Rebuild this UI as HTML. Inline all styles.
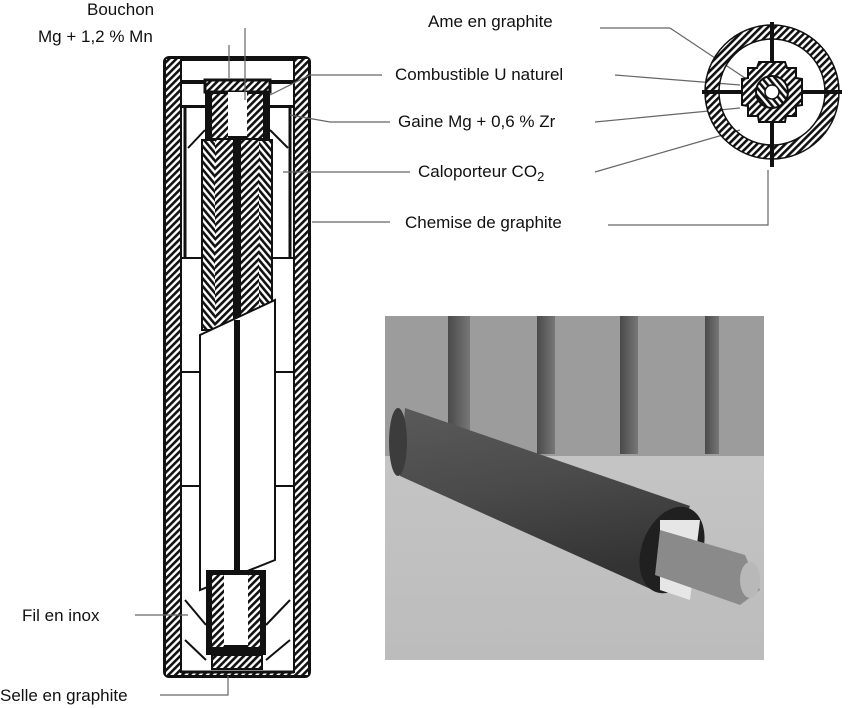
<!DOCTYPE html>
<html><head><style>
html,body{margin:0;padding:0;background:#fff;}
svg{display:block;}
text{font-family:"Liberation Sans",sans-serif;font-size:17px;fill:#111;}
</style></head><body>
<svg width="850" height="708" viewBox="0 0 850 708" xmlns="http://www.w3.org/2000/svg">
<defs>
<pattern id="h" width="5" height="5" patternUnits="userSpaceOnUse" patternTransform="rotate(45)">
<rect width="5" height="5" fill="#fff"/><rect width="2.6" height="5" fill="#111"/></pattern>
<pattern id="h2" width="5" height="5" patternUnits="userSpaceOnUse" patternTransform="rotate(-40)">
<rect width="5" height="5" fill="#fff"/><rect width="2.6" height="5" fill="#111"/></pattern>
<linearGradient id="cyl" x1="0" y1="0" x2="0.25" y2="1">
<stop offset="0" stop-color="#5a5a5a"/><stop offset="0.5" stop-color="#4a4a4a"/><stop offset="1" stop-color="#333"/></linearGradient>
<linearGradient id="tbl" x1="0" y1="0" x2="0" y2="1">
<stop offset="0" stop-color="#cacaca"/><stop offset="1" stop-color="#bcbcbc"/></linearGradient>
<linearGradient id="str" x1="0" y1="0" x2="1" y2="0">
<stop offset="0" stop-color="#4a4a4a"/><stop offset="1" stop-color="#777"/></linearGradient>
</defs>

<rect x="163" y="56" width="148" height="622" rx="6" fill="#111"/>
<rect x="166" y="59" width="142" height="616" fill="url(#h)"/>
<rect x="181" y="60" width="113" height="612" fill="#fff" stroke="#111" stroke-width="2"/>
<line x1="181" y1="258" x2="294" y2="258" stroke="#111" stroke-width="2"/>
<line x1="181" y1="372" x2="294" y2="372" stroke="#111" stroke-width="2"/>
<line x1="181" y1="486" x2="294" y2="486" stroke="#111" stroke-width="2"/>
<rect x="181" y="80" width="113" height="4" fill="#111"/>
<rect x="181" y="105" width="113" height="3" fill="#111"/>
<line x1="185" y1="108" x2="185" y2="258" stroke="#111" stroke-width="3"/>
<line x1="290" y1="108" x2="290" y2="258" stroke="#111" stroke-width="3"/>
<path d="M205,130 L188,148 M270,130 L288,148" stroke="#111" stroke-width="2"/>
<rect x="205" y="80" width="65" height="12" fill="url(#h)" stroke="#111" stroke-width="3"/>
<rect x="205" y="92" width="65" height="48" fill="#111"/>
<rect x="212" y="94" width="16" height="44" fill="url(#h)"/>
<rect x="247" y="94" width="16" height="44" fill="url(#h)"/>
<rect x="228" y="92" width="19" height="44" fill="#fff"/>
<rect x="202" y="140" width="70" height="190" fill="url(#h2)" stroke="#111" stroke-width="2"/>
<rect x="215" y="140" width="44" height="190" fill="url(#h)"/>
<rect x="233" y="136" width="8" height="430" fill="#111"/>
<polygon points="200,335 275,300 275,560 200,590" fill="#fff" stroke="#111" stroke-width="2"/>
<line x1="237" y1="320" x2="237" y2="575" stroke="#111" stroke-width="6"/>
<rect x="206" y="570" width="60" height="85" fill="#111"/>
<rect x="212" y="575" width="12" height="72" fill="url(#h)"/>
<rect x="248" y="575" width="12" height="72" fill="url(#h)"/>
<rect x="224" y="575" width="24" height="70" fill="#fff"/>
<rect x="212" y="655" width="50" height="14" fill="url(#h)" stroke="#111" stroke-width="2"/>
<path d="M185,600 L206,625 M290,600 L266,625 M185,640 L206,660 M290,640 L266,660" stroke="#111" stroke-width="2"/>
<line x1="181" y1="672" x2="294" y2="672" stroke="#111" stroke-width="3"/>

<g stroke="#666" stroke-width="1.2" fill="none">
<line x1="229" y1="45" x2="229" y2="78"/>
<line x1="245" y1="28" x2="245" y2="100"/>
<polyline points="270,95 310,75 382,75"/>
<polyline points="290,115 330,122 390,122"/>
<line x1="283" y1="172" x2="410" y2="172"/>
<line x1="312" y1="222" x2="390" y2="222"/>
<line x1="135" y1="615" x2="188" y2="615"/>
<polyline points="160,695 228,695 228,676"/>
<line x1="600" y1="28" x2="670" y2="28"/><line x1="670" y1="28" x2="745" y2="78"/>
<line x1="615" y1="75" x2="740" y2="85"/>
<line x1="595" y1="122" x2="740" y2="108"/>
<line x1="595" y1="172" x2="740" y2="130"/>
<polyline points="608,225 768,225 768,170"/>
</g>

<g transform="translate(772,92)">
<circle r="60" fill="none" stroke="url(#h)" stroke-width="14"/>
<circle r="67" fill="none" stroke="#111" stroke-width="1.5"/>
<circle r="53" fill="none" stroke="#111" stroke-width="1.5"/>
<line x1="-70" y1="0" x2="70" y2="0" stroke="#111" stroke-width="4"/>
<line x1="0" y1="-70" x2="0" y2="75" stroke="#111" stroke-width="4"/>
<polygon points="-13,-30 13,-30 15,-24 24,-24 24,-14 30,-13 30,13 24,14 24,24 14,24 13,30 -13,30 -14,24 -24,24 -24,14 -30,13 -30,-13 -24,-14 -24,-24 -15,-24" fill="url(#h)" stroke="#111" stroke-width="2"/>
<circle r="16" fill="url(#h2)" stroke="#111" stroke-width="2"/>
<circle r="7" fill="#fff" stroke="#111" stroke-width="1.5"/>
</g>

<rect x="385" y="316" width="379" height="344" fill="url(#tbl)"/>
<rect x="385" y="316" width="379" height="140" fill="#9c9c9c"/>
<g fill="url(#str)">
<rect x="448" y="316" width="22" height="138"/><rect x="537" y="316" width="18" height="138"/><rect x="620" y="316" width="18" height="138"/><rect x="705" y="316" width="14" height="138"/>
</g>
<polygon points="405,408 690,506 655,591 400,476" fill="url(#cyl)"/>
<ellipse cx="398" cy="442" rx="9" ry="34" fill="#3c3c3c"/>
<ellipse cx="672" cy="550" rx="30" ry="45" fill="#202020" transform="rotate(22 672 550)"/>
<polygon points="660,520 700,520 690,600 660,590" fill="#e6e6e6"/>
<polygon points="660,530 745,555 760,590 740,605 655,575" fill="#8a8a8a"/>
<ellipse cx="750" cy="580" rx="10" ry="18" fill="#b8b8b8"/>

<text x="87" y="15">Bouchon</text>
<text x="38" y="42">Mg + 1,2 % Mn</text>
<text x="428" y="27">Ame en graphite</text>
<text x="395" y="80">Combustible U naturel</text>
<text x="398" y="127">Gaine Mg + 0,6 % Zr</text>
<text x="418" y="177">Caloporteur CO<tspan font-size="13" dy="4">2</tspan></text>
<text x="405" y="228">Chemise de graphite</text>
<text x="22" y="621">Fil en inox</text>
<text x="0" y="701">Selle en graphite</text>
</svg>
</body></html>
